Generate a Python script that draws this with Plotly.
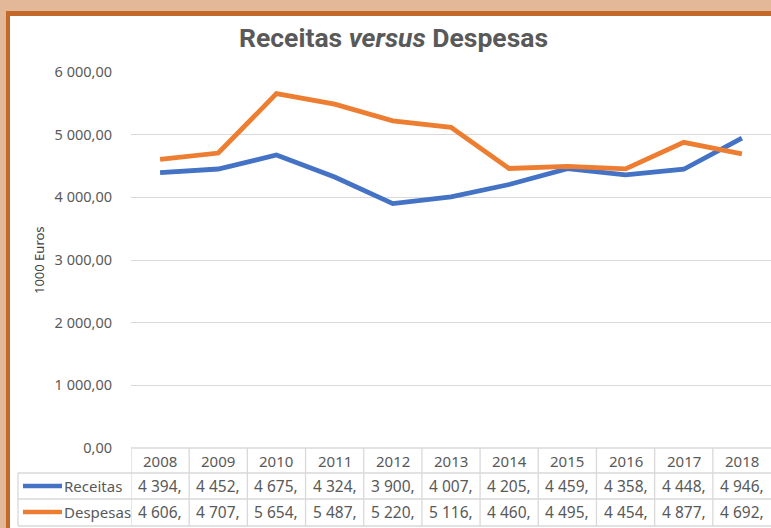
import plotly.graph_objects as go

# data
years = ["2008", "2009", "2010", "2011", "2012", "2013", "2014", "2015", "2016", "2017", "2018"]
receitas = [4394, 4452, 4675, 4324, 3900, 4007, 4205, 4459, 4358, 4448, 4946]
despesas = [4606, 4707, 5654, 5487, 5220, 5116, 4460, 4495, 4454, 4877, 4692]
series_names = ["Receitas", "Despesas"]
series_colors = ["#4472c4", "#ed7d31"]
tick_vals = [0, 1000, 2000, 3000, 4000, 5000, 6000]
tick_text = ["0,00", "1 000,00", "2 000,00", "3 000,00", "4 000,00", "5 000,00", "6 000,00"]

W, H = 771, 528
GRAY = "#595959"
GRID = "#d9d9d9"
FONT = "Noto Sans"


def px(x):
    return x / W


def py(y):
    return 1 - y / H


def cell_text(v):
    # the table cells in the original are cut after the comma
    s = f"{v:,}".replace(",", " ")
    return s + ","


fig = go.Figure()
xs = list(range(len(years)))
for name, vals, col in zip(series_names, [receitas, despesas], series_colors):
    fig.add_trace(go.Scatter(x=xs, y=vals, mode="lines", name=name,
                             line=dict(color=col, width=4.8), showlegend=False, hoverinfo="skip"))

shapes = []
# frame: orange border and white panel over the tan paper
shapes.append(dict(type="rect", xref="paper", yref="paper", x0=px(6), x1=1.01, y0=-0.01, y1=py(11),
                   fillcolor="#c4692c", line=dict(width=0), layer="below"))
shapes.append(dict(type="rect", xref="paper", yref="paper", x0=px(10), x1=1.01, y0=-0.01, y1=py(16),
                   fillcolor="white", line=dict(width=0), layer="below"))

# data table grid
rows_y = [448, 473, 499, 526]
shapes.append(dict(type="line", xref="paper", yref="paper", x0=px(131), x1=1, y0=py(448), y1=py(448),
                   line=dict(color=GRID, width=1.3)))
for ry in rows_y[1:]:
    shapes.append(dict(type="line", xref="paper", yref="paper", x0=px(18), x1=1, y0=py(ry), y1=py(ry),
                       line=dict(color=GRID, width=1.3)))
shapes.append(dict(type="line", xref="paper", yref="paper", x0=px(18), x1=px(18), y0=py(473), y1=py(526),
                   line=dict(color=GRID, width=1.3)))
for i in range(len(years)):
    shapes.append(dict(type="line", xref="x", yref="paper", x0=i - 0.5, x1=i - 0.5, y0=py(448), y1=py(526),
                       line=dict(color=GRID, width=1.3)))

annotations = []
# title
annotations.append(dict(text="<b>Receitas <i>versus</i> Despesas</b>", xref="paper", yref="paper",
                        x=px(394), y=py(37), showarrow=False, xanchor="center", yanchor="middle",
                        font=dict(family="Roboto", size=26.5, color=GRAY)))
# y axis title
annotations.append(dict(text="1000 Euros", xref="paper", yref="paper", x=px(39), y=py(260),
                        textangle=-90, showarrow=False, xanchor="center", yanchor="middle",
                        font=dict(family=FONT, size=13, color="#404040")))

year_font = dict(family=FONT, size=15, color=GRAY)
cell_font = dict(family=FONT, size=15.5, color=GRAY)
for i, yr in enumerate(years):
    for txt, ry, f in [(yr, 461, year_font), (cell_text(receitas[i]), 486, cell_font),
                       (cell_text(despesas[i]), 512, cell_font)]:
        annotations.append(dict(text=txt, xref="x", yref="paper", x=i, y=py(ry), showarrow=False,
                                xanchor="center", yanchor="middle", font=f))

# legend keys inside the table
for name, col, ry in zip(series_names, series_colors, [486, 512]):
    shapes.append(dict(type="line", xref="paper", yref="paper", x0=px(23), x1=px(62), y0=py(ry), y1=py(ry),
                       line=dict(color=col, width=4.5)))
    annotations.append(dict(text=name, xref="paper", yref="paper", x=px(62), y=py(ry), xanchor="left",
                            yanchor="middle", showarrow=False, font=year_font))

fig.update_layout(
    width=W, height=H,
    margin=dict(l=0, r=0, t=0, b=0),
    paper_bgcolor="#e2b898",
    plot_bgcolor="rgba(0,0,0,0)",
    shapes=shapes,
    annotations=annotations,
    showlegend=False,
    xaxis=dict(domain=[px(131), 1], range=[-0.5, 10.5], showgrid=False, showticklabels=False,
               zeroline=False, showline=False, fixedrange=True, automargin=False),
    yaxis=dict(domain=[py(448), py(72)], range=[0, 6000], tickvals=tick_vals, ticktext=tick_text,
               gridcolor=GRID, gridwidth=1.3, zeroline=False, showline=False, ticklabelstandoff=18,
               tickfont=dict(family=FONT, size=14.5, color=GRAY), fixedrange=True, automargin=False),
)

fig.write_html("out.html", config={"displayModeBar": False},
               post_script="document.body.style.margin='0';")
